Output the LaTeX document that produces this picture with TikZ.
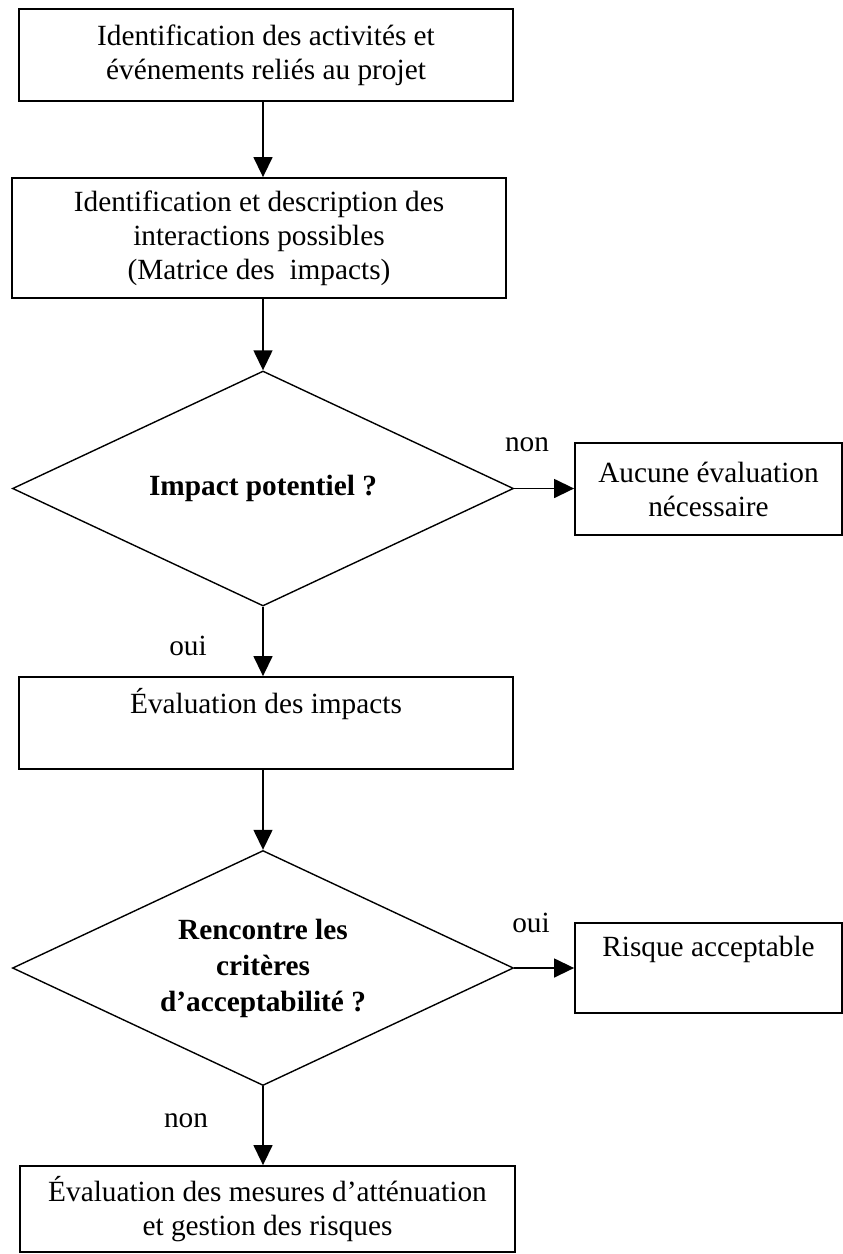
\documentclass[tikz,border=0pt]{standalone}
\usepackage{fontspec}
\setmainfont{Liberation Serif}
\usetikzlibrary{shapes.geometric,arrows.meta}
\begin{document}
\begin{tikzpicture}[x=1pt,y=-1pt,
  every node/.style={font=\fontsize{29.3}{34}\selectfont},
  box/.style={draw,line width=1.8pt,inner sep=0pt,align=center},
  decision/.style={draw,diamond,line width=1.4pt,inner sep=0pt,aspect=2.13,
     minimum width=501pt,minimum height=235pt,align=center,
     font=\fontsize{29.3}{36}\selectfont\bfseries},
  flow/.style={line width=1.4pt,-{Triangle[length=20pt,width=19pt]}},
  lbl/.style={inner sep=0pt}]
\useasboundingbox (0,0) rectangle (843,1254);
\node[box,minimum width=494pt,minimum height=92pt] (b1) at (266,55)
  {Identification des activités et\\événements reliés au projet};
\node[box,minimum width=494pt,minimum height=120pt] (b2) at (259,238)
  {Identification et description des\\interactions possibles\\(Matrice des\ \ impacts)};
\node[decision] (d1) at (263,488.5) {Impact potentiel ?};
\node[box,minimum width=267pt,minimum height=92pt] (b3) at (708.5,489)
  {Aucune évaluation\\nécessaire};
\node[box,minimum width=494pt,minimum height=92pt] (b4) at (266,723)
  {Évaluation des impacts\\\strut};
\node[decision] (d2) at (263,968) {Rencontre les\\critères\\d’acceptabilité ?};
\node[box,minimum width=267pt,minimum height=90pt] (b5) at (708.5,968)
  {Risque acceptable\\\strut};
\node[box,minimum width=495pt,minimum height=86pt] (b6) at (267.5,1209)
  {Évaluation des mesures d’atténuation\\et gestion des risques};
\draw[flow] (b1.south -| d1.north) -- (b2.north -| d1.north);
\draw[flow] (b2.south -| d1.north) -- (d1.north);
\draw[flow] (d1.east) -- (b3.west |- d1.east);
\draw[flow] (d1.south) -- (b4.north -| d1.south);
\draw[flow] (b4.south -| d1.south) -- (d2.north);
\draw[flow] (d2.east) -- (b5.west |- d2.east);
\draw[flow] (d2.south) -- (b6.north -| d2.south);
\node[lbl] (l1) at (527,445) {non};
\node[lbl] (l2) at (188,646) {oui};
\node[lbl] (l3) at (531,923) {oui};
\node[lbl] (l4) at (186,1121) {non};
\end{tikzpicture}
\end{document}
